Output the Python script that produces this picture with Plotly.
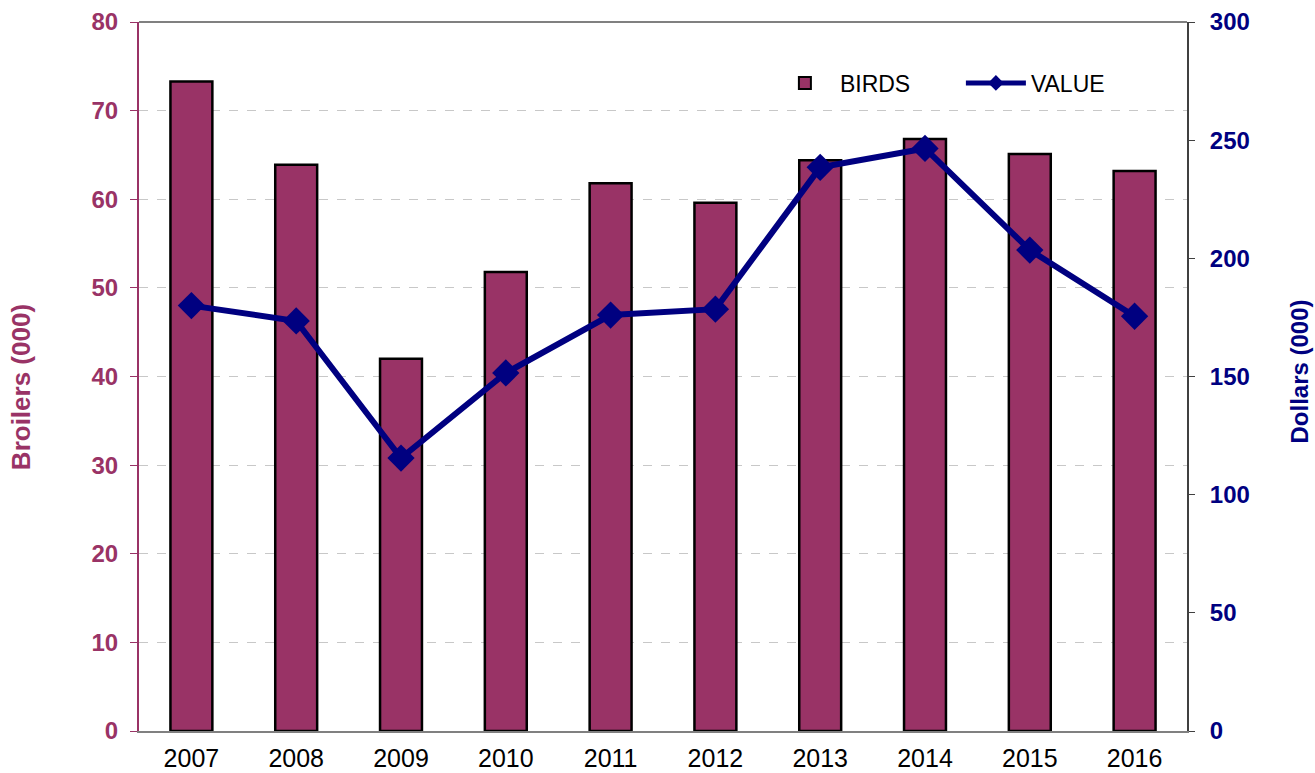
import plotly.graph_objects as go

years = ["2007", "2008", "2009", "2010", "2011", "2012", "2013", "2014", "2015", "2016"]
birds = [73.3, 63.9, 42.0, 51.8, 61.8, 59.6, 64.4, 66.8, 65.1, 63.2]
value = [180.0, 173.5, 115.5, 151.5, 176.0, 178.5, 238.5, 246.5, 203.5, 175.5]

BAR = "#993366"
NAVY = "#000080"
FONT = "Liberation Sans, Arial, sans-serif"

fig = go.Figure()
fig.add_trace(go.Bar(
    x=years, y=birds, name="BIRDS", marker=dict(color=BAR, line=dict(color="black", width=2.5)),
    width=0.4, yaxis="y",
))
fig.add_trace(go.Scatter(
    x=years, y=value, name="VALUE", mode="lines+markers", yaxis="y2",
    line=dict(color=NAVY, width=6), marker=dict(symbol="diamond", size=21, color=NAVY),
))

fig.update_layout(
    width=1315, height=773,
    margin=dict(l=139, r=128, t=22, b=42),
    plot_bgcolor="white", paper_bgcolor="white",
    font=dict(family=FONT, size=20, color="black"),
    showlegend=True,
    legend=dict(orientation="h", x=0.602, y=0.914, xanchor="left", yanchor="middle",
                font=dict(size=23, color="black"), bgcolor="rgba(0,0,0,0)", itemsizing="constant",
                itemwidth=60, entrywidth=116, entrywidthmode="pixels", traceorder="normal"),
    xaxis=dict(
        type="category", range=[-0.5, len(years) - 0.5],
        showline=True, linecolor="#808080", linewidth=2, mirror=False, automargin=False,
        tickfont=dict(size=25, color="black"), ticks="", showgrid=False, ticklabelstandoff=4,
    ),
    yaxis=dict(
        range=[0, 80], dtick=10, automargin=False,
        tickfont=dict(size=24, color=BAR, weight="bold"), ticks="outside", ticklen=7, tickcolor=BAR,
        ticklabelstandoff=7,
        showline=True, linecolor=BAR, linewidth=2,
        showgrid=True, gridcolor="#c8c8c8", griddash="dash", gridwidth=1, zeroline=False,
    ),
    yaxis2=dict(
        range=[0, 300], dtick=50, overlaying="y", side="right", automargin=False,
        tickfont=dict(size=24, color=NAVY, weight="bold"), ticks="outside", ticklen=6, tickcolor="#404040",
        ticklabelstandoff=10,
        showline=True, linecolor="#404040", linewidth=2, showgrid=False, zeroline=False,
    ),
    shapes=[dict(type="line", xref="paper", yref="paper", x0=0, x1=1, y0=1, y1=1,
                 line=dict(color="#808080", width=2))],
    annotations=[
        dict(text="<b>Broilers (000)</b>", xref="paper", yref="paper", x=-0.1126, y=0.485,
             textangle=-90, showarrow=False, xanchor="center", yanchor="middle",
             font=dict(size=26, color=BAR)),
        dict(text="<b>Dollars (000)</b>", xref="paper", yref="paper", x=1.1078, y=0.507,
             textangle=-90, showarrow=False, xanchor="center", yanchor="middle",
             font=dict(size=24, color=NAVY)),
    ],
)

fig.write_html(
    "out.html",
    config={"displayModeBar": False},
    post_script="document.body.style.margin='0';document.body.style.overflow='hidden';",
)
